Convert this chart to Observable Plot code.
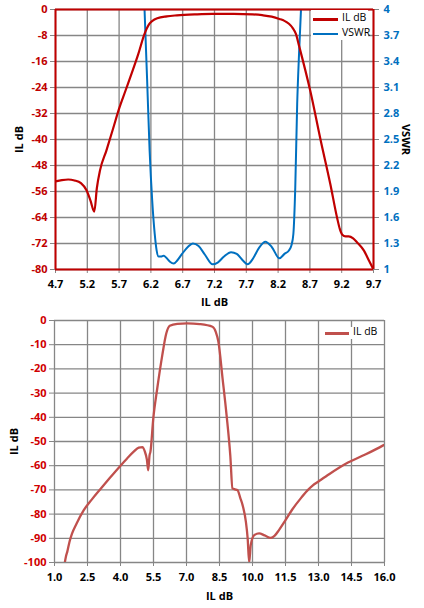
<!DOCTYPE html>
<html><head><meta charset="utf-8">
<script src="https://cdn.jsdelivr.net/npm/d3@7"></script>
<script src="https://cdn.jsdelivr.net/npm/@observablehq/plot@0.6"></script>
<style>
body{margin:0;background:#fff;font-family:"Open Sans",sans-serif;}
.chart{position:relative;width:424px;}
.chart svg{display:block;}
.legend{position:absolute;background:#fff;font-family:"Open Sans",sans-serif;font-size:10.5px;color:#000;}
.legend .row{position:absolute;left:0;height:12px;white-space:nowrap;}
.legend .sw{position:absolute;top:5px;height:2.5px;}
.legend .lb{position:absolute;top:-3px;}
</style></head><body>
<div id="chartA" class="chart"></div>
<div id="chartB" class="chart"></div>
<script>
// ---------- Top chart data ----------
const ilFreqA = [4.7, 4.8, 4.9, 5.0, 5.1, 5.19, 5.25, 5.31, 5.35, 5.4, 5.5, 5.6, 5.7, 5.8, 5.9, 6.0, 6.1, 6.17, 6.23, 6.3, 6.45, 6.61, 6.9, 7.17, 7.5, 7.8, 7.95, 8.1, 8.22, 8.3, 8.37, 8.43, 8.48, 8.53, 8.71, 8.87, 9.02, 9.13, 9.17, 9.21, 9.26, 9.31, 9.38, 9.44, 9.55, 9.63, 9.7];
const ilDbA = [-52.9, -52.5, -52.3, -52.6, -53.4, -55.7, -58.8, -62.2, -55, -49.5, -43.4, -37, -30.5, -25, -19.5, -13.8, -7.5, -4.6, -3.4, -2.7, -2.1, -1.8, -1.5, -1.35, -1.35, -1.5, -1.75, -2.2, -2.9, -3.5, -4.4, -5.7, -7.5, -11.2, -25.4, -40.3, -53.6, -64.3, -67.5, -69.3, -69.8, -69.8, -70.4, -71.6, -74.2, -77.3, -80];
const vswrFreq = [6.1, 6.14, 6.18, 6.22, 6.26, 6.29, 6.32, 6.36, 6.4, 6.45, 6.5, 6.56, 6.62, 6.69, 6.78, 6.86, 6.95, 7.05, 7.17, 7.25, 7.35, 7.46, 7.55, 7.65, 7.72, 7.8, 7.9, 8.0, 8.1, 8.22, 8.3, 8.37, 8.41, 8.44, 8.47, 8.5, 8.53, 8.56];
const vswrVal = [4.0, 3.2, 2.37, 1.80, 1.41, 1.22, 1.15, 1.15, 1.16, 1.13, 1.09, 1.07, 1.11, 1.18, 1.26, 1.30, 1.27, 1.17, 1.06, 1.08, 1.15, 1.20, 1.18, 1.10, 1.06, 1.12, 1.25, 1.32, 1.26, 1.13, 1.18, 1.22, 1.28, 1.41, 1.95, 2.91, 3.5, 4.0];
const xTicksA = [4.7, 5.2, 5.7, 6.2, 6.7, 7.2, 7.7, 8.2, 8.7, 9.2, 9.7];
const yTicksA = [0, -8, -16, -24, -32, -40, -48, -56, -64, -72, -80];
const vswrTicks = [1, 1.3, 1.6, 1.9, 2.2, 2.5, 2.8, 3.1, 3.4, 3.7, 4];

// ---------- Bottom chart data ----------
const ilFreqB = [1.47, 1.52, 1.58, 1.68, 1.8, 2.0, 2.33, 2.7, 3.09, 3.5, 3.97, 4.3, 4.6, 4.83, 5.0, 5.1, 5.2, 5.26, 5.32, 5.36, 5.49, 5.67, 5.9, 6.08, 6.24, 6.58, 7.03, 7.6, 8.18, 8.33, 8.45, 8.64, 8.82, 8.99, 9.09, 9.2, 9.32, 9.45, 9.55, 9.7, 9.78, 9.85, 9.92, 10.08, 10.3, 10.55, 10.83, 11.0, 11.21, 11.5, 11.8, 12.2, 12.5, 12.73, 13.0, 13.5, 14.24, 15.15, 15.94, 16.0];
const ilDbB = [-100, -97.5, -95.6, -91.5, -88, -84, -78.4, -73.9, -69.6, -65.2, -60.3, -57.0, -54.2, -52.5, -52.3, -54, -57.5, -61.9, -55.7, -54.3, -40.5, -28.1, -14.3, -5.4, -2.2, -1.4, -1.2, -1.5, -2.6, -4.7, -8.8, -24, -39, -55.7, -69.4, -69.8, -70.1, -73.5, -76.3, -83.2, -90, -100, -92.8, -88.7, -88, -88.8, -89.8, -89, -86.5, -82.5, -78.2, -73.4, -70.2, -68.2, -66.5, -63.4, -59.2, -55.3, -51.6, -51.3];
const xTicksB = [1.0, 2.5, 4.0, 5.5, 7.0, 8.5, 10.0, 11.5, 13.0, 14.5, 16.0];
const yTicksB = [0, -10, -20, -30, -40, -50, -60, -70, -80, -90, -100];

const seriesNamesA = ["IL dB", "VSWR"];
const seriesNamesB = ["IL dB"];

// map VSWR onto the left (dB) scale
const vToDb = v => -80 + (v - 1) * 80 / 3;

const ilA = ilFreqA.map((f, i) => ({f, v: ilDbA[i]}));
const vsA = vswrFreq.map((f, i) => ({f, v: vToDb(vswrVal[i])}));
const ilB = ilFreqB.map((f, i) => ({f, v: ilDbB[i]}));

const RED = "#C00000", BLUE = "#0070C0", GRID = "#868686", RED2 = "#C0504D";
const FONT = "Open Sans";
const f1 = d3.format(".1f");

const chartA = Plot.plot({
  width: 424, height: 310,
  marginTop: 9, marginBottom: 41, marginLeft: 55, marginRight: 51,
  x: {domain: [4.7, 9.7]},
  y: {domain: [-80, 0]},
  style: {fontFamily: FONT, background: "white", overflow: "visible"},
  marks: [
    Plot.gridX(xTicksA, {stroke: GRID, strokeOpacity: 1, strokeWidth: 1.3}),
    Plot.gridY(yTicksA, {stroke: GRID, strokeOpacity: 1, strokeWidth: 1.3}),
    Plot.axisX(xTicksA, {tickSize: 4, tickPadding: 7, stroke: GRID, fill: "#000", fontSize: 11, fontWeight: "bold", tickFormat: f1, label: null}),
    Plot.axisY(yTicksA, {tickSize: 5, tickPadding: 3, stroke: GRID, fill: RED, fontSize: 11, fontWeight: "bold", tickFormat: d => String(d), label: null}),
    Plot.axisY(vswrTicks.map(vToDb), {anchor: "right", tickSize: 5, tickPadding: 5, stroke: GRID, fill: BLUE, fontSize: 11, fontWeight: "bold", tickFormat: (d, i) => String(vswrTicks[i]), label: null}),
    Plot.line(vsA, {x: "f", y: "v", stroke: BLUE, strokeWidth: 2, curve: "monotone-x", clip: true}),
    Plot.line(ilA, {x: "f", y: "v", stroke: RED, strokeWidth: 2.2, curve: "monotone-x", clip: true}),
    Plot.ruleX([4.7, 9.7], {stroke: RED, strokeWidth: 2}),
    Plot.ruleY([0, -80], {stroke: RED, strokeWidth: 2}),
    Plot.text([seriesNamesA[0]], {frameAnchor: "left", dx: -36, rotate: -90, text: d => d, fontSize: 11, fontWeight: "bold", fill: "#000", textAnchor: "middle", lineAnchor: "middle"}),
    Plot.text([seriesNamesA[1]], {frameAnchor: "right", dx: 32, rotate: 90, text: d => d, fontSize: 11, fontWeight: "bold", fill: "#000", textAnchor: "middle", lineAnchor: "middle"}),
    Plot.text([seriesNamesA[0]], {frameAnchor: "bottom", dy: 33, text: d => d, fontSize: 11, fontWeight: "bold", fill: "#000", textAnchor: "middle", lineAnchor: "middle"})
  ]
});
document.getElementById("chartA").appendChild(chartA);

const chartB = Plot.plot({
  width: 424, height: 298,
  marginTop: 10, marginBottom: 46, marginLeft: 54, marginRight: 40,
  x: {domain: [1, 16]},
  y: {domain: [-100, 0]},
  style: {fontFamily: FONT, background: "white", overflow: "visible"},
  marks: [
    Plot.gridX(xTicksB, {stroke: GRID, strokeOpacity: 1, strokeWidth: 1.3}),
    Plot.gridY(yTicksB, {stroke: GRID, strokeOpacity: 1, strokeWidth: 1.3}),
    Plot.axisX(xTicksB, {tickSize: 4, tickPadding: 7, stroke: GRID, fill: "#000", fontSize: 11, fontWeight: "bold", tickFormat: f1, label: null}),
    Plot.axisY(yTicksB, {tickSize: 5, tickPadding: 3, stroke: GRID, fill: "#D00000", fontSize: 11, fontWeight: "bold", tickFormat: d => String(d), label: null}),
    Plot.line(ilB, {x: "f", y: "v", stroke: RED2, strokeWidth: 2.3, curve: "monotone-x", clip: true}),
    Plot.text([seriesNamesB[0]], {frameAnchor: "left", dx: -40.5, rotate: -90, text: d => d, fontSize: 11, fontWeight: "bold", fill: "#000", textAnchor: "middle", lineAnchor: "middle"}),
    Plot.text([seriesNamesB[0]], {frameAnchor: "bottom", dy: 34, text: d => d, fontSize: 11, fontWeight: "bold", fill: "#000", textAnchor: "middle", lineAnchor: "middle"})
  ]
});
document.getElementById("chartB").appendChild(chartB);

// ---------- Legends ----------
function legend(container, items, box) {
  const el = document.createElement("div");
  el.className = "legend";
  Object.assign(el.style, {left: box.left + "px", top: box.top + "px", width: box.w + "px", height: box.h + "px"});
  items.forEach((it, i) => {
    const row = document.createElement("div");
    row.className = "row";
    row.style.top = (box.rowTop + i * box.rowStep) + "px";
    const sw = document.createElement("div");
    sw.className = "sw";
    Object.assign(sw.style, {left: box.swLeft + "px", width: box.swW + "px", background: it.color});
    const lb = document.createElement("div");
    lb.className = "lb";
    lb.style.left = box.txtLeft + "px";
    lb.textContent = it.name;
    row.appendChild(sw); row.appendChild(lb);
    el.appendChild(row);
  });
  document.getElementById(container).appendChild(el);
}
legend("chartA", [{name: seriesNamesA[0], color: RED}, {name: seriesNamesA[1], color: BLUE}],
  {left: 311, top: 10, w: 57, h: 30, rowTop: 3, rowStep: 14.5, swLeft: 2, swW: 25, txtLeft: 31});
legend("chartB", [{name: seriesNamesB[0], color: RED2}],
  {left: 322, top: 17, w: 58, h: 12, rowTop: 0, rowStep: 14, swLeft: 3, swW: 24, txtLeft: 31});
</script>
</body></html>
